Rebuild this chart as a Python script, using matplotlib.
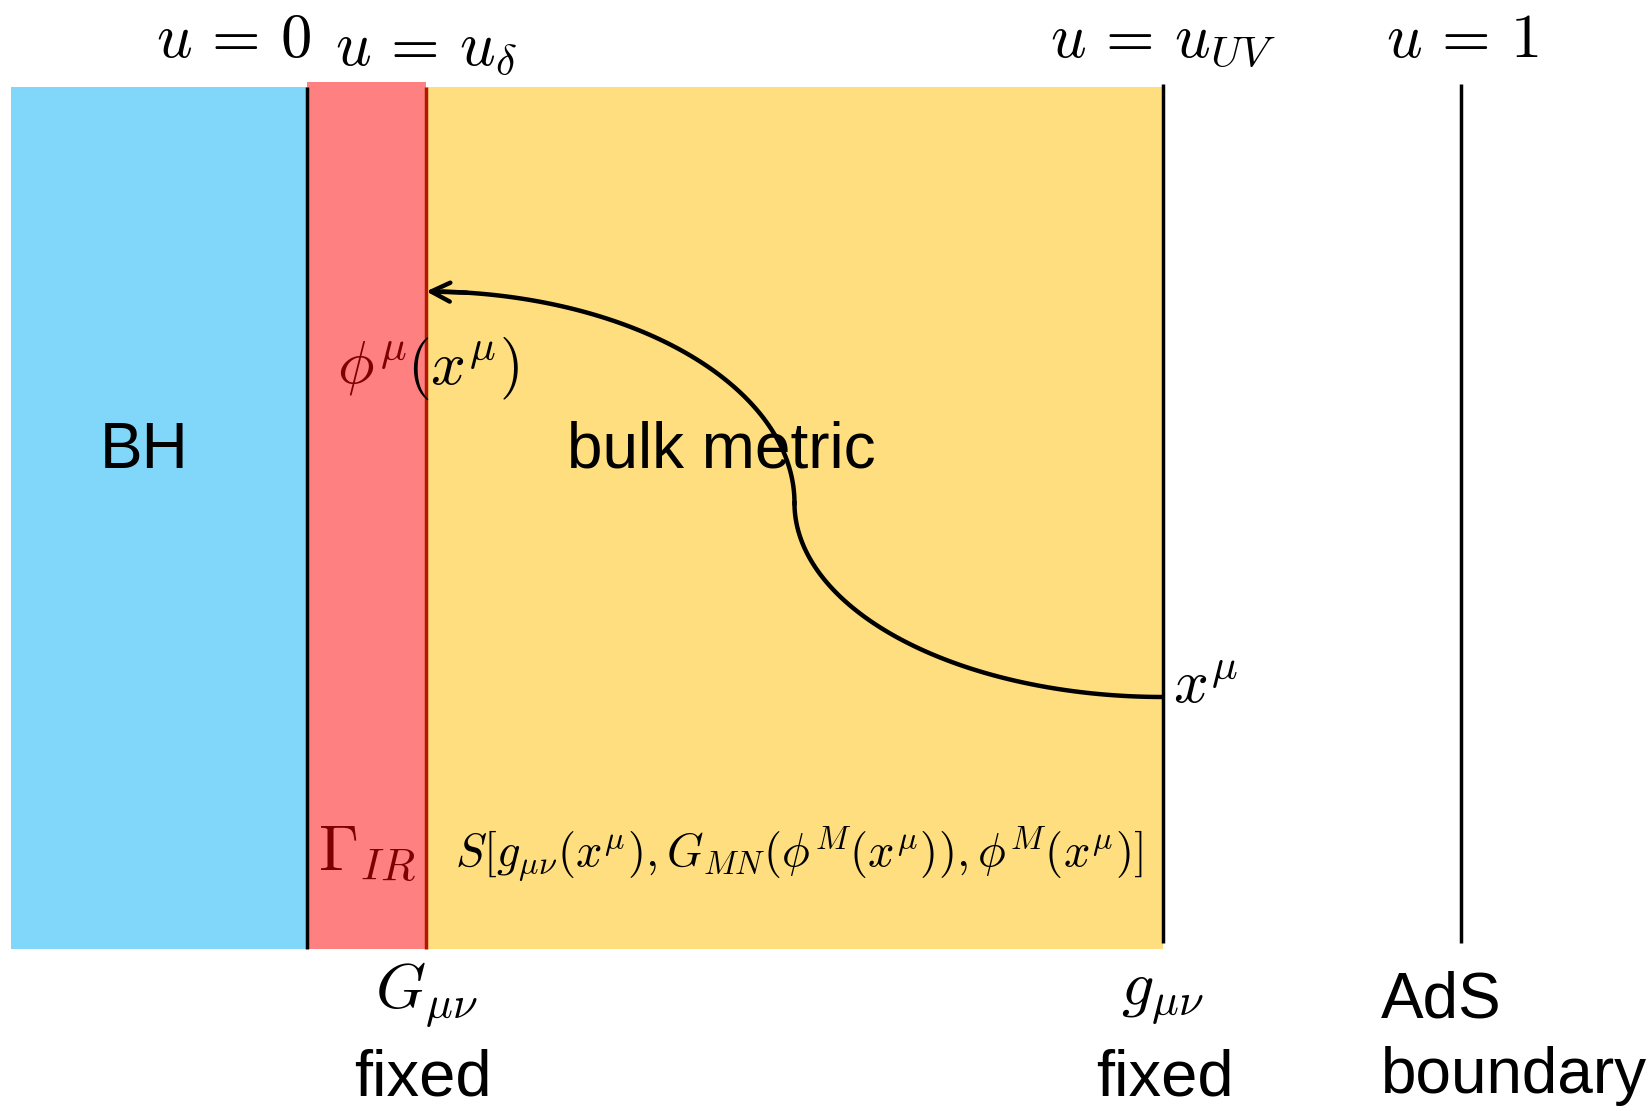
import matplotlib.pyplot as plt
import matplotlib.patches as mpatches
import numpy as np

plt.rcParams["mathtext.fontset"] = "cm"
SANS = "Liberation Sans"

# region boundaries (drawing units, x to the right, y downward)
region_names = ["BH", "IR shell", "bulk"]
region_x = [(10, 292), (292, 405), (405, 1105)]
region_y = [(83, 905), (78, 905), (83, 905)]
region_colors = ["#80D7F9", "#FF8080", "#FFDE80"]

# vertical slices: x, top, bottom, colour
slice_x = [292, 405, 1105, 1388]
slice_top = [83, 83, 80, 80]
slice_bottom = [905, 905, 900, 900]
slice_colors = ["black", "#B01800", "black", "black"]

top_labels = [r"$u\,=\,0$", r"$u\,=\,u_\delta$", r"$u\,=\,u_{UV}$", r"$u\,=\,1$"]
top_label_x = [222, 405, 1105, 1390]
top_label_y = [38, 45, 38, 38]

# geodesic: two quarter ellipses joined at the middle point
geo_start = (1105, 665)
geo_mid = (755, 480)
geo_end = (405, 278)

fig = plt.figure(figsize=(16.5, 11.11), dpi=100)
ax = fig.add_axes([0, 0, 1, 1])
ax.set_xlim(0, 1568)
ax.set_ylim(1060, 0)
ax.axis("off")

for (x0, x1), (y0, y1), c in zip(region_x, region_y, region_colors):
    ax.add_patch(mpatches.Rectangle((x0, y0), x1 - x0, y1 - y0, color=c, lw=0, zorder=1))

for x, t, b, c in zip(slice_x, slice_top, slice_bottom, slice_colors):
    ax.plot([x, x], [t, b], color=c, lw=2.5, zorder=3, solid_capstyle="butt")

for s, x, y in zip(top_labels, top_label_x, top_label_y):
    ax.text(x, y, s, fontsize=45, ha="center", va="center")

# lower arc: centre at (start_x, mid_y)
th = np.linspace(np.pi / 2, np.pi, 100)
rx1 = geo_start[0] - geo_mid[0]
ry1 = geo_start[1] - geo_mid[1]
xa = geo_start[0] + rx1 * np.cos(th)
ya = geo_mid[1] + ry1 * np.sin(th)
# upper arc: centre at (end_x, mid_y)
th2 = np.linspace(0, np.pi / 2, 100)
rx2 = geo_mid[0] - geo_end[0]
ry2 = geo_mid[1] - geo_end[1]
xb = geo_end[0] + rx2 * np.cos(th2)
yb = geo_mid[1] - ry2 * np.sin(th2)
ax.plot(xa, ya, color="black", lw=3.2, zorder=4)
ax.plot(xb[:-3], yb[:-3], color="black", lw=3.2, zorder=4)
ax.annotate("", xy=(xb[-1], yb[-1]), xytext=(xb[-8], yb[-8]),
            arrowprops=dict(arrowstyle="->", lw=3.2, color="black",
                            mutation_scale=34, shrinkA=0, shrinkB=0), zorder=5)

ax.text(137, 430, "BH", fontsize=46, family=SANS, ha="center", va="center")
ax.text(685, 430, "bulk metric", fontsize=46, family=SANS, ha="center", va="center", zorder=6)

ax.text(387, 352, r"$\phi^\mu$", fontsize=44, color="#800000", ha="right", va="center", zorder=6)
ax.text(387, 352, r"$(x^\mu)$", fontsize=44, color="black", ha="left", va="center", zorder=6)

ax.text(349, 815, r"$\Gamma_{IR}$", fontsize=46, color="#800000", ha="center", va="center", zorder=6)
ax.text(432, 815, r"$S[g_{\mu\nu}(x^\mu),G_{MN}(\phi^M(x^\mu)),\phi^M(x^\mu)]$",
        fontsize=33.5, ha="left", va="center", zorder=6)

ax.text(1115, 655, r"$x^\mu$", fontsize=44, ha="left", va="center", zorder=6)

ax.text(405, 950, r"$G_{\mu\nu}$", fontsize=46, ha="center", va="center")
ax.text(1105, 950, r"$g_{\mu\nu}$", fontsize=46, ha="center", va="center")
ax.text(402, 1029, "fixed", fontsize=47, family=SANS, ha="center", va="center")
ax.text(1107, 1029, "fixed", fontsize=47, family=SANS, ha="center", va="center")
ax.text(1312, 955, "AdS", fontsize=46, family=SANS, ha="left", va="center")
ax.text(1312, 1027, "boundary", fontsize=46, family=SANS, ha="left", va="center")

fig.savefig("out.png", dpi=100)
